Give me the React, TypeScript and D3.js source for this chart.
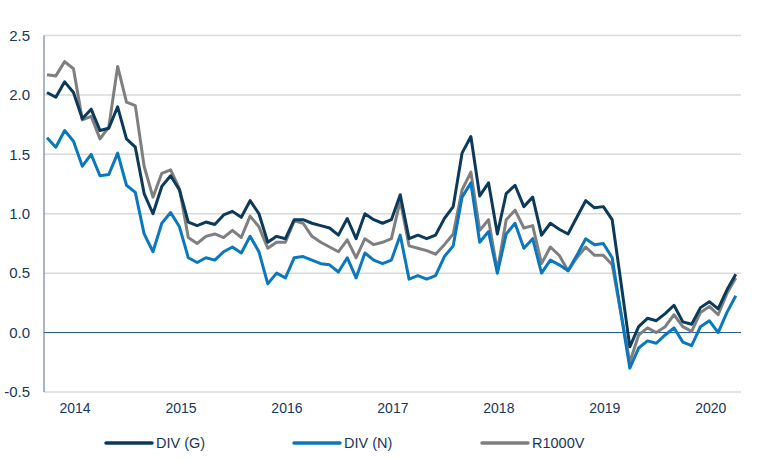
import React, { useRef, useEffect } from "react";
import * as d3 from "d3";

// Monthly observations, Oct 2013 .. Apr 2020
const months = d3.timeMonth.range(new Date(2013, 9, 1), new Date(2020, 4, 1));

const divG = [
  2.02, 1.98, 2.11, 2.02, 1.8, 1.88, 1.7, 1.72, 1.9, 1.63, 1.56, 1.17, 1.0, 1.23, 1.32, 1.2,
  0.93, 0.9, 0.93, 0.91, 0.99, 1.02, 0.97, 1.11, 1.0, 0.76, 0.81, 0.79, 0.95, 0.95, 0.92, 0.9,
  0.88, 0.82, 0.96, 0.79, 1.0, 0.95, 0.92, 0.95, 1.16, 0.79, 0.82, 0.79, 0.82, 0.96, 1.06, 1.51,
  1.65, 1.15, 1.26, 0.83, 1.17, 1.24, 1.06, 1.14, 0.82, 0.92, 0.87, 0.83, 0.97, 1.11, 1.05, 1.06,
  0.95, 0.42, -0.12, 0.05, 0.12, 0.1, 0.16, 0.23, 0.09, 0.07, 0.21, 0.26, 0.2, 0.36, 0.49,
];

const divN = [
  1.64, 1.56, 1.7, 1.61, 1.4, 1.5, 1.32, 1.33, 1.51, 1.24, 1.18, 0.83, 0.68, 0.92, 1.01, 0.89,
  0.63, 0.59, 0.63, 0.61, 0.68, 0.72, 0.67, 0.81, 0.68, 0.41, 0.5, 0.46, 0.63, 0.64, 0.61, 0.58,
  0.57, 0.51, 0.63, 0.46, 0.67, 0.61, 0.58, 0.61, 0.82, 0.45, 0.48, 0.45, 0.48, 0.64, 0.73, 1.14,
  1.26, 0.76, 0.85, 0.5, 0.83, 0.92, 0.71, 0.79, 0.5, 0.61, 0.57, 0.52, 0.65, 0.79, 0.74, 0.75,
  0.63, 0.16, -0.3, -0.13, -0.07, -0.09, -0.02, 0.04, -0.08, -0.11, 0.05, 0.1, 0.0, 0.17, 0.31,
];

const r1000v = [
  2.17, 2.16, 2.28, 2.22, 1.79, 1.82, 1.63, 1.73, 2.24, 1.94, 1.91, 1.4, 1.14, 1.34, 1.37, 1.21,
  0.8, 0.75, 0.81, 0.83, 0.8, 0.86, 0.8, 0.98, 0.89, 0.71, 0.76, 0.76, 0.94, 0.92, 0.81, 0.76,
  0.72, 0.68, 0.78, 0.63, 0.79, 0.74, 0.76, 0.79, 1.11, 0.73, 0.71, 0.69, 0.66, 0.74, 0.83, 1.2,
  1.35, 0.86, 0.95, 0.52, 0.95, 1.03, 0.88, 0.9, 0.58, 0.72, 0.65, 0.52, 0.63, 0.72, 0.65, 0.65,
  0.57, 0.16, -0.25, -0.02, 0.04, 0.0, 0.05, 0.15, 0.05, 0.01, 0.17, 0.22, 0.15, 0.33, 0.46,
];

const yTicks = [-0.5, 0, 0.5, 1.0, 1.5, 2.0, 2.5];
const yearLabels = ["2014", "2015", "2016", "2017", "2018", "2019", "2020"];

const series = [
  { name: "DIV (G)", values: divG, color: "#0c3a5b" },
  { name: "DIV (N)", values: divN, color: "#0b78be" },
  { name: "R1000V", values: r1000v, color: "#7f7f7f" },
];

const W = 761;
const H = 459;
const plot = { left: 44, right: 741, top: 35.5, bottom: 392 };
const textColor = "#17365a";
const font = "Arial, 'Liberation Sans', sans-serif";

const App: React.FC = () => {
  const svgRef = useRef<SVGSVGElement>(null);

  useEffect(() => {
    const svg = d3.select(svgRef.current);
    svg.selectAll("*").remove();

    const x = d3
      .scaleLinear()
      .domain([0, months.length - 1])
      .range([47, 735.8]);
    const y = d3.scaleLinear().domain([-0.5, 2.5]).range([plot.bottom, plot.top]);

    // grid
    svg
      .append("g")
      .selectAll("line")
      .data(yTicks.filter((t) => t !== 0))
      .enter()
      .append("line")
      .attr("x1", plot.left)
      .attr("x2", plot.right)
      .attr("y1", (d) => y(d))
      .attr("y2", (d) => y(d))
      .attr("stroke", "#d9d9d9")
      .attr("stroke-width", 1.5);

    // zero line
    svg
      .append("line")
      .attr("x1", plot.left)
      .attr("x2", plot.right)
      .attr("y1", y(0))
      .attr("y2", y(0))
      .attr("stroke", "#1f4e79")
      .attr("stroke-width", 1);

    // y axis line
    svg
      .append("line")
      .attr("x1", plot.left)
      .attr("x2", plot.left)
      .attr("y1", plot.top)
      .attr("y2", plot.bottom)
      .attr("stroke", "#4f6f8f")
      .attr("stroke-width", 1);

    // y labels
    svg
      .append("g")
      .selectAll("text")
      .data(yTicks)
      .enter()
      .append("text")
      .attr("x", 30)
      .attr("y", (d) => y(d))
      .attr("dy", "0.35em")
      .attr("text-anchor", "end")
      .attr("font-family", font)
      .attr("font-size", 15)
      .attr("fill", textColor)
      .text((d) => d.toFixed(1));

    // year labels at January of each year
    svg
      .append("g")
      .selectAll("text")
      .data(yearLabels)
      .enter()
      .append("text")
      .attr("x", (d) => {
        const i = months.findIndex((m) => m.getFullYear() === +d && m.getMonth() === 0);
        return x(i) + 1.5;
      })
      .attr("y", 413)
      .attr("text-anchor", "middle")
      .attr("font-family", font)
      .attr("font-size", 14)
      .attr("fill", textColor)
      .text((d) => d);

    const line = d3
      .line<number>()
      .x((_, i) => x(i))
      .y((d) => y(d));

    // draw R1000V, DIV(N), then DIV(G) on top
    [series[2], series[1], series[0]].forEach((s) => {
      svg
        .append("path")
        .datum(s.values)
        .attr("d", line)
        .attr("fill", "none")
        .attr("stroke", s.color)
        .attr("stroke-width", 3)
        .attr("stroke-linejoin", "round");
    });

    // legend
    const legendX = [106, 294, 482];
    const lg = svg
      .append("g")
      .selectAll("g")
      .data(series)
      .enter()
      .append("g")
      .attr("transform", (_, i) => `translate(${legendX[i]},443)`);
    lg.append("line")
      .attr("x1", 0)
      .attr("x2", 46)
      .attr("stroke", (d) => d.color)
      .attr("stroke-width", 3.5)
      .attr("stroke-linecap", "round");
    lg.append("text")
      .attr("x", 50)
      .attr("dy", "0.35em")
      .attr("font-family", font)
      .attr("font-size", 14.5)
      .attr("fill", textColor)
      .text((d) => d.name);
  }, []);

  return (
    <svg
      ref={svgRef}
      width={W}
      height={H}
      style={{ position: "absolute", left: 0, top: 0, background: "#fff" }}
    />
  );
};

export default App;
